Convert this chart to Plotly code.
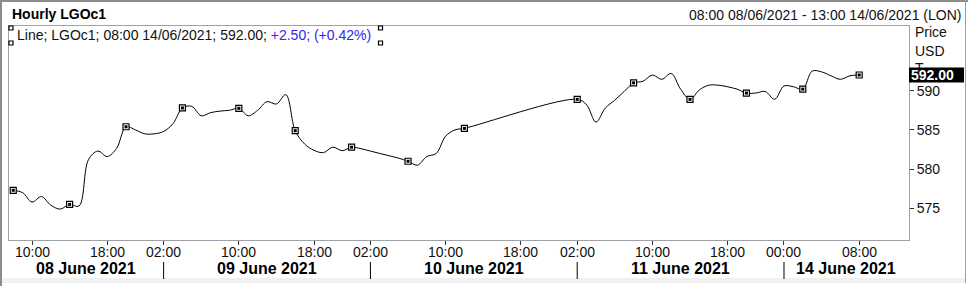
import pandas as pd
import plotly.graph_objects as go

# ---------------- data ----------------
times = [
    "2021-06-08 08:00", "2021-06-08 09:00", "2021-06-08 10:00", "2021-06-08 11:00", "2021-06-08 12:00",
    "2021-06-08 13:00", "2021-06-08 14:00", "2021-06-08 15:00", "2021-06-08 16:00", "2021-06-08 17:00",
    "2021-06-08 18:00", "2021-06-08 19:00", "2021-06-08 20:00", "2021-06-08 21:00", "2021-06-08 22:00",
    "2021-06-09 01:00", "2021-06-09 02:00", "2021-06-09 03:00", "2021-06-09 04:00", "2021-06-09 05:00",
    "2021-06-09 06:00", "2021-06-09 07:00", "2021-06-09 08:00", "2021-06-09 09:00", "2021-06-09 10:00",
    "2021-06-09 11:00", "2021-06-09 12:00", "2021-06-09 13:00", "2021-06-09 14:00", "2021-06-09 15:00",
    "2021-06-09 16:00", "2021-06-09 17:00", "2021-06-09 18:00", "2021-06-09 19:00", "2021-06-09 20:00",
    "2021-06-09 21:00", "2021-06-09 22:00",
    "2021-06-10 01:00", "2021-06-10 02:00", "2021-06-10 03:00", "2021-06-10 04:00", "2021-06-10 05:00",
    "2021-06-10 06:00", "2021-06-10 07:00", "2021-06-10 08:00", "2021-06-10 09:00", "2021-06-10 10:00",
    "2021-06-10 11:00", "2021-06-10 12:00",
    "2021-06-11 02:00", "2021-06-11 03:00", "2021-06-11 04:00", "2021-06-11 05:00", "2021-06-11 06:00",
    "2021-06-11 07:00", "2021-06-11 08:00", "2021-06-11 09:00", "2021-06-11 10:00", "2021-06-11 11:00",
    "2021-06-11 12:00", "2021-06-11 13:00", "2021-06-11 14:00", "2021-06-11 15:00", "2021-06-11 16:00",
    "2021-06-11 17:00", "2021-06-11 18:00", "2021-06-11 19:00", "2021-06-11 20:00", "2021-06-11 21:00",
    "2021-06-11 22:00",
    "2021-06-13 23:00", "2021-06-14 00:00", "2021-06-14 01:00", "2021-06-14 02:00", "2021-06-14 03:00",
    "2021-06-14 04:00", "2021-06-14 05:00", "2021-06-14 06:00", "2021-06-14 07:00", "2021-06-14 08:00",
]
prices = [
    577.3, 577.0, 575.8, 576.5, 575.4, 574.9, 575.5, 575.3, 581.2, 582.3, 581.6, 582.65, 585.4, 585.0, 584.5,
    584.5, 584.8, 585.8, 587.8, 588.0, 586.8, 587.2, 587.4, 587.5, 587.75, 586.8, 587.5, 588.6, 588.3, 589.5,
    584.9, 583.2, 582.4, 582.1, 582.8, 582.35, 582.8,
    582.6, 582.3, 582.0, 581.7, 581.4, 581.0, 580.5, 581.6, 582.0, 584.2, 585.0, 585.2,
    588.9, 588.2, 586.0, 587.8, 588.8, 589.9, 591.0, 591.2, 592.0, 591.45, 592.2, 590.2, 588.9, 590.1,
    590.7, 590.7, 590.5, 590.2, 589.7, 589.7, 589.9,
    588.9, 590.6, 590.5, 590.2, 592.5, 592.4, 591.9, 591.45, 591.9, 592.0,
]
tick_times = [
    "2021-06-08 10:00", "2021-06-08 18:00", "2021-06-09 02:00", "2021-06-09 10:00", "2021-06-09 18:00",
    "2021-06-10 02:00", "2021-06-10 10:00", "2021-06-10 18:00", "2021-06-11 02:00", "2021-06-11 10:00",
    "2021-06-11 18:00", "2021-06-14 00:00", "2021-06-14 08:00",
]
day_labels = ["08 June 2021", "09 June 2021", "10 June 2021", "11 June 2021", "14 June 2021"]
day_starts = ["2021-06-09 02:00", "2021-06-10 02:00", "2021-06-11 02:00", "2021-06-14 00:00"]
y_ticks = [575, 580, 585, 590]
range_start = "2021-06-08 08:00"
range_end = "2021-06-14 13:00"

title_text = "Hourly LGOc1"
header_text = "08:00 08/06/2021 - 13:00 14/06/2021 (LON)"
legend_text = "Line; LGOc1; 08:00 14/06/2021; 592.00; "
legend_change = "+2.50; (+0.42%)"
axis_labels = ["Price", "USD", "T"]
last_label = "592.00"

# ---------------- trading-hour axis ----------------
def is_open(ts):
    wd, h = ts.weekday(), ts.hour
    if wd == 5:
        return False
    if wd == 6:
        return h >= 23
    if wd == 0:
        return h < 23
    return 1 <= h < 23

t0 = pd.Timestamp(range_start)

def th(s):
    ts = pd.Timestamp(s)
    n = 0
    cur = t0
    while cur < ts:
        if is_open(cur):
            n += 1
        cur = cur + pd.Timedelta(hours=1)
    return float(n)

xs = [th(t) for t in times]
tick_x = [th(t) for t in tick_times]
tick_text = [pd.Timestamp(t).strftime("%H:%M") for t in tick_times]
sep_x = [th(t) for t in day_starts]
x_lo = th(range_start) - 0.45
x_hi = th(range_end) + 0.3
bounds = [x_lo] + sep_x + [x_hi]
label_x = [(bounds[i] + bounds[i + 1]) / 2 for i in range(len(day_labels))]

mk_x = [x for x in xs if int(x) % 6 == 0]
mk_y = [p for x, p in zip(xs, prices) if int(x) % 6 == 0]

# ---------------- figure ----------------
L, R, T, B = 9, 909, 26, 240
W, H = 968, 286

def px(x):
    return (x - L) / (R - L)

def py(y):
    return (B - y) / (B - T)

FONT = "Arial, 'Liberation Sans', sans-serif"
fig = go.Figure()
fig.add_trace(go.Scatter(x=xs, y=prices, mode="lines",
                         line=dict(color="black", width=1, shape="spline", smoothing=1),
                         hoverinfo="skip"))
fig.add_trace(go.Scatter(x=mk_x, y=mk_y, mode="markers", cliponaxis=False,
                         marker=dict(symbol="square", size=6, color="white",
                                     line=dict(color="black", width=1.2)),
                         hoverinfo="skip"))
fig.add_trace(go.Scatter(x=mk_x, y=mk_y, mode="markers", cliponaxis=False,
                         marker=dict(symbol="square", size=3, color="black", line=dict(width=0)),
                         hoverinfo="skip"))

border = "#a0a0aa"
fig.update_layout(
    template="none",
    width=W, height=H, margin=dict(l=L, r=W - R, t=T, b=H - B, pad=0, autoexpand=False),
    paper_bgcolor="white", plot_bgcolor="white", showlegend=False,
    font=dict(family=FONT, size=14, color="#111"),
    xaxis=dict(range=[x_lo, x_hi], tickvals=tick_x, ticktext=tick_text, ticks="outside",
               ticklen=4, tickcolor="#333", showgrid=False, zeroline=False,
               showline=True, mirror=True, linecolor=border, linewidth=1,
               showticklabels=False, automargin=False),
    yaxis=dict(range=[570.96, 598.25], side="right", tickvals=y_ticks,
               ticktext=[str(v) for v in y_ticks], ticks="outside", ticklen=4,
               tickcolor="#333", showgrid=False, zeroline=False, showline=True,
               mirror=True, linecolor=border, linewidth=1, automargin=False,
               tickfont=dict(size=14, color="#111")),
)

shapes = []
# outer frame
shapes.append(dict(type="rect", xref="paper", yref="paper", x0=px(0), x1=px(W), y0=py(0), y1=py(2),
                   fillcolor="#8c8c8c", line=dict(width=0), layer="above"))
shapes.append(dict(type="rect", xref="paper", yref="paper", x0=px(0), x1=px(2), y0=py(0), y1=py(H),
                   fillcolor="#8c8c8c", line=dict(width=0), layer="above"))
shapes.append(dict(type="rect", xref="paper", yref="paper", x0=px(965), x1=px(966), y0=py(0), y1=py(283),
                   fillcolor="#a0a0a0", line=dict(width=0), layer="above"))
shapes.append(dict(type="rect", xref="paper", yref="paper", x0=px(2), x1=px(965), y0=py(278), y1=py(283),
                   fillcolor="#f0f0f0", line=dict(width=0), layer="above"))
# day separators
for sx in sep_x:
    shapes.append(dict(type="line", xref="x", yref="paper", x0=sx, x1=sx, y0=py(262), y1=py(279),
                       line=dict(color="black", width=1)))
# legend selection handles
for hx, hy in [(11, 28), (11, 43), (380.5, 28), (380.5, 43)]:
    shapes.append(dict(type="rect", xref="paper", yref="paper", x0=px(hx - 2), x1=px(hx + 2),
                       y0=py(hy - 2), y1=py(hy + 2), fillcolor="white",
                       line=dict(color="black", width=1.2), layer="above"))
# last value box
last_v = prices[-1]
shapes.append(dict(type="rect", xref="paper", yref="y", x0=px(909), x1=px(964),
                   y0=last_v - 0.95, y1=last_v + 0.95, fillcolor="black",
                   line=dict(width=0), layer="above"))

annotations = []
annotations.append(dict(text="<b>" + title_text + "</b>", xref="paper", yref="paper", x=px(10), y=py(14),
                        xanchor="left", yanchor="middle", showarrow=False,
                        font=dict(size=14, color="black")))
annotations.append(dict(text=header_text, xref="paper", yref="paper", x=px(963), y=py(15),
                        xanchor="right", yanchor="middle", showarrow=False,
                        font=dict(size=14, color="#111")))
annotations.append(dict(text=legend_text + "<span style='color:#2a2af0'>" + legend_change + "</span>",
                        xref="paper", yref="paper", x=px(15), y=py(35.5),
                        xanchor="left", yanchor="middle", showarrow=False,
                        font=dict(size=14, color="#111")))
for lbl, yy in zip(axis_labels, [32, 50.5, 68]):
    annotations.append(dict(text=lbl, xref="paper", yref="paper", x=px(912.5), y=py(yy),
                            xanchor="left", yanchor="middle", showarrow=False,
                            font=dict(size=14, color="#111")))
annotations.append(dict(text="<b>" + last_label + "</b>", xref="paper", yref="y", x=px(908.5), y=last_v,
                        xanchor="left", yanchor="middle", showarrow=False,
                        font=dict(size=14, color="white")))
# time tick labels
for tx, tt in zip(tick_x, tick_text):
    annotations.append(dict(text=tt, xref="x", yref="paper", x=tx, y=py(251.5),
                            xanchor="center", yanchor="middle", showarrow=False,
                            font=dict(size=14, color="#111")))
for lbl, lx in zip(day_labels, label_x):
    annotations.append(dict(text="<b>" + lbl + "</b>", xref="x", yref="paper", x=lx, y=py(268.5),
                            xanchor="center", yanchor="middle", showarrow=False,
                            font=dict(size=16, color="black")))

fig.update_layout(shapes=shapes, annotations=annotations)
fig.write_html("out.html")
